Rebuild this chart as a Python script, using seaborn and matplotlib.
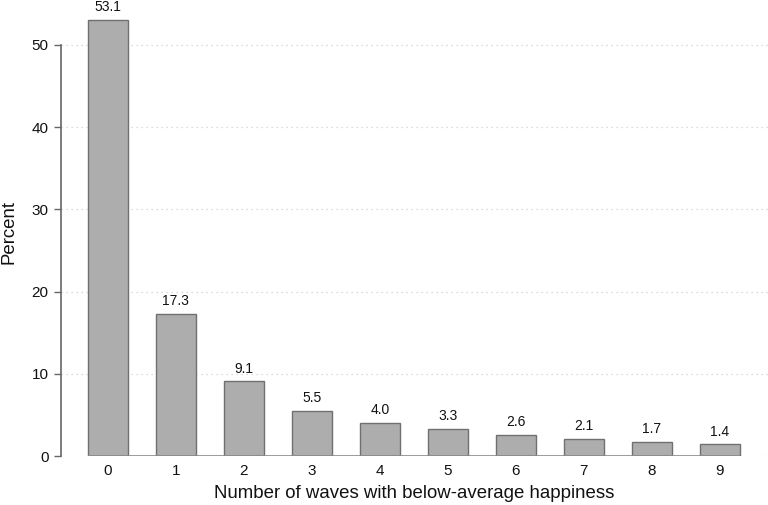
import pandas as pd
import matplotlib.pyplot as plt
import seaborn as sns

waves = [0, 1, 2, 3, 4, 5, 6, 7, 8, 9]
percent = [53.1, 17.3, 9.1, 5.5, 4.0, 3.3, 2.6, 2.1, 1.7, 1.4]
labels = ['53.1', '17.3', '9.1', '5.5', '4.0', '3.3', '2.6', '2.1', '1.7', '1.4']

df = pd.DataFrame({'waves': waves, 'percent': percent})

sns.set_style('white')
plt.rcParams['font.family'] = ['Liberation Sans', 'DejaVu Sans']

fig = plt.figure(figsize=(7.68, 5.05), dpi=100)
ax = fig.add_axes([61 / 768, (505 - 456) / 505, 1 - 61 / 768, (456 - 8) / 505])

sns.barplot(x='waves', y='percent', data=df, color='#adadad', saturation=1,
            edgecolor='#707070', linewidth=1.0, width=0.59, ax=ax, zorder=3)

# value labels above the bars
for i, (v, lab) in enumerate(zip(percent, labels)):
    ax.text(i, v + 1.05, lab, ha='center', va='baseline', fontsize=10, color='#111111')

ax.set_xlim(-0.69, 9.71)
ax.set_ylim(0, 54.5)
ax.set_yticks([0, 10, 20, 30, 40, 50])
for y in [0, 10, 20, 30, 40, 50]:
    ax.axhline(y, color='#d0d0d0', linestyle=(0, (1, 3)), linewidth=0.9, zorder=1)
ax.hlines(0, -0.3, 9.3, color='#8a8a8a', linewidth=1.2, zorder=4)

for s in ['top', 'right', 'bottom']:
    ax.spines[s].set_visible(False)
ax.spines['left'].set_bounds(0, 50)
ax.spines['left'].set_color('#666666')
ax.spines['left'].set_linewidth(1.2)
ax.tick_params(axis='y', left=True, length=5, width=1, color='#666666',
               labelsize=11, pad=4, labelcolor='#111111')
ax.tick_params(axis='x', bottom=False, labelsize=11, pad=2, labelcolor='#111111')

ax.set_xlabel('Number of waves with below-average happiness', fontsize=13.4,
              labelpad=5, color='#111111')
ax.set_ylabel('Percent', fontsize=13.4, labelpad=10, color='#111111')

fig.savefig('out.png', dpi=100)
